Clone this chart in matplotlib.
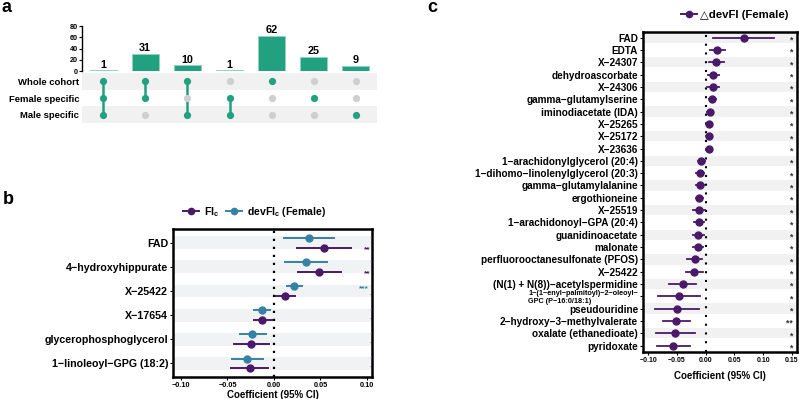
import matplotlib
matplotlib.use("Agg")
import matplotlib.pyplot as plt
from matplotlib.lines import Line2D

plt.rcParams['font.family'] = ['Liberation Sans', 'DejaVu Sans']
plt.rcParams['font.weight'] = 'bold'
plt.rcParams['mathtext.fontset'] = 'custom'
plt.rcParams['mathtext.bf'] = 'Liberation Sans:bold'
plt.rcParams['mathtext.rm'] = 'Liberation Sans:bold'

# ---------------- data ----------------
# panel a (upset)
upset_counts = [1, 31, 10, 1, 62, 25, 9]
upset_sets = ['Whole cohort', 'Female specific', 'Male specific']
upset_membership = [[1, 1, 1], [1, 1, 0], [1, 0, 1], [0, 1, 1], [1, 0, 0], [0, 1, 0], [0, 0, 1]]
upset_yticks = [0, 20, 40, 60, 80]

# panel b
b_metabolites = ['FAD', '4\u2212hydroxyhippurate', 'X\u221225422', 'X\u221217654',
                 'glycerophosphoglycerol', '1\u2212linoleoyl\u2212GPG (18:2)']
b_fic_est = [0.0536, 0.0486, 0.0120, -0.0129, -0.0243, -0.0260]
b_fic_lo = [0.0250, 0.0257, 0.0020, -0.0220, -0.0425, -0.0460]
b_fic_hi = [0.0825, 0.0718, 0.0230, -0.0025, -0.0057, -0.0064]
b_dev_est = [0.0375, 0.0340, 0.0214, -0.0129, -0.0236, -0.0290]
b_dev_lo = [0.0110, 0.0118, 0.0136, -0.0210, -0.0368, -0.0450]
b_dev_hi = [0.0640, 0.0568, 0.0300, -0.0040, -0.0090, -0.0118]
b_fic_sig = ['**', '**', '', '', '', '']
b_dev_sig = ['', '', '***', '', '', '']
b_xticks = [-0.10, -0.05, 0.00, 0.05, 0.10]

# panel c
c_metabolites = ['FAD', 'EDTA', 'X\u221224307', 'dehydroascorbate', 'X\u221224306',
                 'gamma\u2212glutamylserine', 'iminodiacetate (IDA)', 'X\u221225265', 'X\u221225172',
                 'X\u221223636', '1\u2212arachidonylglycerol (20:4)',
                 '1\u2212dihomo\u2212linolenylglycerol (20:3)', 'gamma\u2212glutamylalanine',
                 'ergothioneine', 'X\u221225519', '1\u2212arachidonoyl\u2212GPA (20:4)',
                 'guanidinoacetate', 'malonate', 'perfluorooctanesulfonate (PFOS)', 'X\u221225422',
                 '(N(1) + N(8))\u2212acetylspermidine',
                 '1\u2212(1\u2212enyl\u2212palmitoyl)\u22122\u2212oleoyl\u2212\nGPC (P\u221216:0/18:1)',
                 'pseudouridine', '2\u2212hydroxy\u22123\u2212methylvalerate',
                 'oxalate (ethanedioate)', 'pyridoxate']
c_est = [0.0669, 0.0203, 0.0186, 0.0134, 0.0128, 0.0116, 0.0076, 0.0064, 0.0058, 0.0058,
         -0.0076, -0.0105, -0.0105, -0.0110, -0.0116, -0.0122, -0.0128, -0.0134, -0.0192,
         -0.0198, -0.0400, -0.0465, -0.0500, -0.0510, -0.0535, -0.0570]
c_lo = [0.0128, 0.0070, 0.0058, 0.0041, 0.0023, 0.0058, 0.0023, 0.0017, 0.0012, 0.0012,
        -0.0134, -0.0174, -0.0174, -0.0169, -0.0221, -0.0209, -0.0221, -0.0221, -0.0326,
        -0.0349, -0.0640, -0.0831, -0.0878, -0.0744, -0.0872, -0.0849]
c_hi = [0.1192, 0.0343, 0.0314, 0.0233, 0.0227, 0.0186, 0.0128, 0.0110, 0.0105, 0.0105,
        -0.0017, -0.0035, -0.0035, -0.0047, -0.0017, -0.0035, -0.0035, -0.0047, -0.0058,
        -0.0047, -0.0163, -0.0093, -0.0122, -0.0267, -0.0192, -0.0267]
c_sig = ['*'] * 23 + ['**', '*', '*']
c_xticks = [-0.10, -0.05, 0.00, 0.05, 0.10, 0.15]

# ---------------- style ----------------
TEAL = '#21a17f'
GREY_DOT = '#cfcfcf'
BAND = '#f1f1f1'
BAND_B = '#f0f2f4'
PURPLE = '#4a1a68'
BLUE = '#3582a4'

W, H = 799, 399
fig = plt.figure(figsize=(W / 100, H / 100), dpi=100)


def ax_px(l, t, r, b):
    return fig.add_axes([l / W, 1 - b / H, (r - l) / W, (b - t) / H])


def fmt(v):
    return '%.2f' % v if abs(v) > 1e-9 else '0.00'


def fmtm(v):
    return fmt(v).replace('-', '\u2212')

# ---------------- panel a ----------------
axb = ax_px(82, 26, 377, 71)
xs = list(range(len(upset_counts)))
axb.bar(xs, upset_counts, width=0.64, color=TEAL, edgecolor='#8fd6bf', linewidth=0.6)
for x, c in zip(xs, upset_counts):
    axb.text(x, c + 1.2, str(c), ha='center', va='bottom', fontsize=7.8, fontweight='bold')
axb.set_xlim(-0.5, 6.5)
axb.set_ylim(0, 80)
axb.set_yticks(upset_yticks)
axb.set_yticklabels([str(v) for v in upset_yticks], fontsize=5.2)
axb.tick_params(axis='y', length=2, width=0.8, pad=1)
axb.set_xticks([])
for s in ['top', 'right', 'bottom']:
    axb.spines[s].set_visible(False)
axb.spines['left'].set_linewidth(1.0)

axm = ax_px(82, 73, 377, 123)
axm.set_xlim(-0.5, 6.5)
axm.set_ylim(-0.5, 2.5)
for r in [2, 0]:
    axm.axhspan(r - 0.5, r + 0.5, color=BAND, lw=0)
row_y = [2, 1, 0]
for x, mem in enumerate(upset_membership):
    ys = [row_y[i] for i in range(3) if mem[i]]
    if len(ys) > 1:
        axm.plot([x, x], [min(ys), max(ys)], color=TEAL, lw=1.8, zorder=2)
    for i in range(3):
        axm.plot(x, row_y[i], 'o', ms=5.2, color=TEAL if mem[i] else GREY_DOT,
                 mec='none', zorder=3)
axm.set_xticks([])
axm.set_yticks(row_y)
axm.set_yticklabels(upset_sets, fontsize=6.8, fontweight='bold')
axm.tick_params(axis='y', length=0, pad=2)
for s in axm.spines.values():
    s.set_visible(False)

# ---------------- panel b ----------------
axB = ax_px(173, 229, 372, 377)
n = len(b_metabolites)
ypos = [n - 1 - i for i in range(n)]
off = 0.19
for y in ypos:
    axB.axhspan(y - 0.27, y + 0.27, color=BAND_B, lw=0, zorder=0)
axB.axvline(0, color='black', lw=1.6, ls=(0, (1, 2.6)), zorder=1)
for i, y in enumerate(ypos):
    axB.plot([b_dev_lo[i], b_dev_hi[i]], [y + off, y + off], color=BLUE, lw=1.4, zorder=2)
    axB.plot(b_dev_est[i], y + off, 'o', ms=5, color=BLUE, zorder=3)
    axB.plot([b_fic_lo[i], b_fic_hi[i]], [y - off, y - off], color=PURPLE, lw=1.4, zorder=2)
    axB.plot(b_fic_est[i], y - off, 'o', ms=5, color=PURPLE, zorder=3)
    if b_dev_sig[i]:
        axB.text(0.097, y + off - 0.1, b_dev_sig[i], color=BLUE, fontsize=6, ha='center', va='center')
    else:
        axB.text(0.1045, y + off, '\u00b7', color=BLUE, fontsize=6, ha='center', va='center')
    if b_fic_sig[i]:
        axB.text(0.1, y - off - 0.1, b_fic_sig[i], color=PURPLE, fontsize=6, ha='center', va='center')
    else:
        axB.text(0.1045, y - off, '\u00b7', color=PURPLE, fontsize=6, ha='center', va='center')
axB.set_xlim(-0.1086, 0.1054)
axB.set_ylim(-0.58, n - 1 + 0.58)
axB.set_yticks(ypos)
axB.set_yticklabels(b_metabolites, fontsize=7.7, fontweight='bold')
axB.set_xticks(b_xticks)
axB.set_xticklabels([fmtm(v) for v in b_xticks], fontsize=5.3, fontweight='bold')
axB.tick_params(length=2, width=0.8, pad=1.5)
for s in axB.spines.values():
    s.set_linewidth(1.8)
axB.set_xlabel('Coefficient (95% CI)', fontsize=7, fontweight='bold', labelpad=1)

hb = [Line2D([], [], color=PURPLE, marker='o', ms=4.5, lw=1.4),
      Line2D([], [], color=BLUE, marker='o', ms=4.5, lw=1.4)]
fig.legend(hb, [r'FI$_{\mathbf{c}}$', r'devFI$_{\mathbf{c}}$ (Female)'],
           loc='center', bbox_to_anchor=(255 / W, 1 - 212 / H), ncol=2, frameon=False,
           handlelength=1.5, handletextpad=0.5, columnspacing=0.6,
           prop={'weight': 'bold', 'size': 7.6})

# ---------------- panel c ----------------
axC = ax_px(643, 32, 797, 352)
m = len(c_metabolites)
yc = [m - 1 - i for i in range(m)]
for i, y in enumerate(yc):
    if i % 2 == 0:
        axC.axhspan(y - 0.42, y + 0.42, color=BAND, lw=0, zorder=0)
axC.axvline(0, color='black', lw=1.5, ls=(0, (1, 3.2)), zorder=1)
for i, y in enumerate(yc):
    axC.plot([c_lo[i], c_hi[i]], [y, y], color=PURPLE, lw=1.3, zorder=2)
    axC.plot(c_est[i], y, 'o', ms=5, color=PURPLE, zorder=3)
    axC.text(0.1505 if c_sig[i] == '*' else 0.145, y - 0.2, c_sig[i], color='#333333', fontsize=6.2,
             ha='center', va='center')
axC.set_xlim(-0.109, 0.159)
axC.set_ylim(-0.52, m - 1 + 0.46)
axC.set_yticks(yc)
labs = axC.set_yticklabels(c_metabolites, fontsize=7.2, fontweight='bold')
for lab in labs:
    if '\n' in lab.get_text():
        lab.set_fontsize(5.2)
        lab.set_multialignment('left')
        lab.set_linespacing(1.05)
axC.set_xticks(c_xticks)
axC.set_xticklabels([fmtm(v) for v in c_xticks], fontsize=5, fontweight='bold')
axC.tick_params(length=2, width=0.8, pad=1.5)
for s in axC.spines.values():
    s.set_linewidth(1.8)
axC.set_xlabel('Coefficient (95% CI)', fontsize=7, fontweight='bold', labelpad=5)

hc = [Line2D([], [], color=PURPLE, marker='o', ms=4.5, lw=1.4)]
fig.legend(hc, ['\u25b3devFI (Female)'], loc='center', bbox_to_anchor=(735 / W, 1 - 15 / H),
           frameon=False, handlelength=1.4, handletextpad=0.3,
           prop={'weight': 'bold', 'size': 8.2, 'family': ['Liberation Sans', 'DejaVu Sans']})

# ---------------- panel letters ----------------
fig.text(1 / W, 1 - 7 / H, 'a', fontsize=13, fontweight='bold', va='center', ha='left')
fig.text(3 / W, 1 - 200 / H, 'b', fontsize=13, fontweight='bold', va='center', ha='left')
fig.text(427 / W, 1 - 7 / H, 'c', fontsize=13, fontweight='bold', va='center', ha='left')

fig.savefig('out.png', dpi=100)
